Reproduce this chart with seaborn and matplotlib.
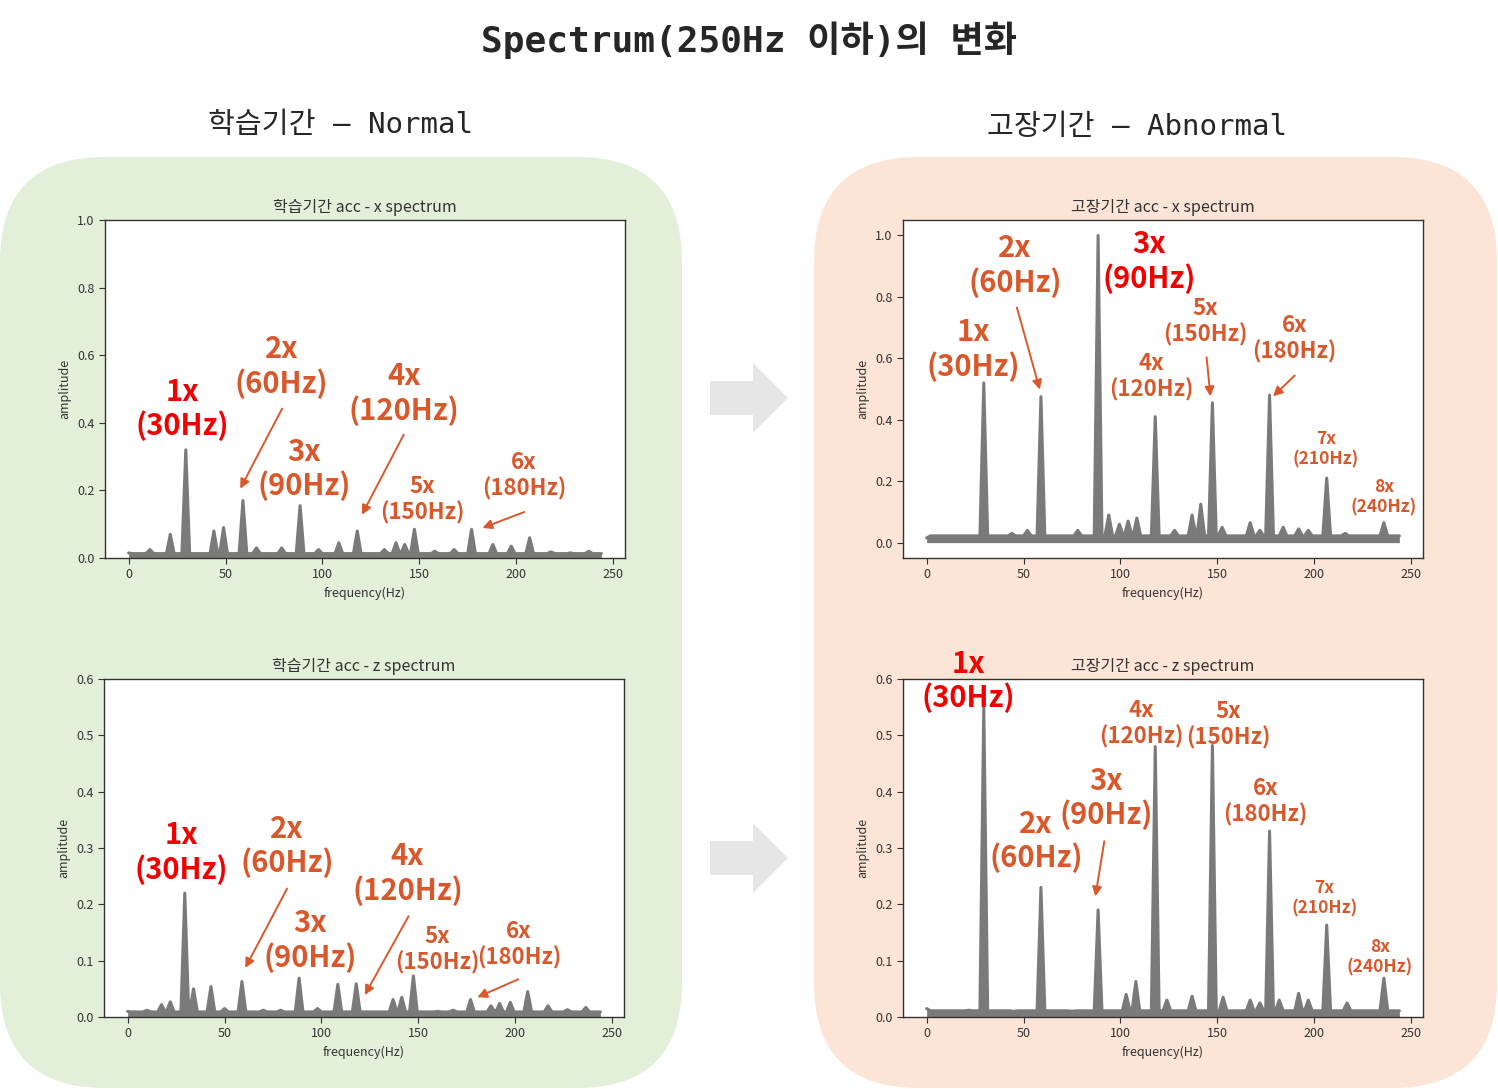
import numpy as np
import matplotlib
matplotlib.use('Agg')
import matplotlib.pyplot as plt
import matplotlib.patches as mpatches
import seaborn as sns

# %% data: peak frequency (Hz) and peak amplitude

normal_x_hz = [0, 11, 21.5, 29.5, 44, 49, 59, 66, 79, 88.5, 98, 108.5, 118, 132, 138, 142.5,
               147.5, 158, 168, 177, 188, 197.5, 207, 218, 228, 237.5]
normal_x_amp = [0.015, 0.025, 0.07, 0.32, 0.08, 0.09, 0.17, 0.03, 0.03, 0.155, 0.025, 0.045, 0.08,
                0.025, 0.045, 0.04, 0.085, 0.02, 0.025, 0.085, 0.04, 0.035, 0.06, 0.018, 0.015, 0.02]

abnormal_x_hz = [0, 29.5, 44, 52, 59, 78, 88.5, 94, 99.5, 104, 108.5, 118, 128, 137, 141.5,
                 147.5, 152.5, 167, 172, 177, 184, 192, 197, 206.5, 216, 236]
abnormal_x_amp = [0.015, 0.52, 0.03, 0.04, 0.475, 0.04, 1.0, 0.09, 0.06, 0.07, 0.08, 0.41, 0.04,
                  0.09, 0.125, 0.455, 0.05, 0.065, 0.04, 0.48, 0.05, 0.045, 0.04, 0.21, 0.03, 0.065]

normal_z_hz = [0, 10, 17.5, 22, 29.5, 34, 43, 50, 59, 70, 79, 88.5, 98, 108.5, 118, 137, 141.5,
               147.5, 160, 168, 177, 187.5, 192, 197.5, 206.5, 217, 227, 236.5]
normal_z_amp = [0.01, 0.012, 0.022, 0.027, 0.22, 0.05, 0.054, 0.015, 0.063, 0.012, 0.012, 0.069,
                0.015, 0.058, 0.059, 0.031, 0.035, 0.073, 0.01, 0.012, 0.031, 0.02, 0.024, 0.026,
                0.045, 0.02, 0.013, 0.017]

abnormal_z_hz = [0, 22, 29.5, 45, 59, 75, 88.5, 103, 108, 118, 124, 137, 147.5, 153, 167, 172,
                 177, 182, 192, 197, 206.5, 217, 236]
abnormal_z_amp = [0.015, 0.012, 0.55, 0.01, 0.23, 0.01, 0.19, 0.04, 0.063, 0.48, 0.03, 0.037,
                  0.482, 0.035, 0.03, 0.025, 0.33, 0.03, 0.042, 0.03, 0.163, 0.025, 0.069]

noise_floor = {'nx': 0.013, 'ax': 0.022, 'nz': 0.009, 'az': 0.011}
last_hz = 244

x_ticks = [0, 50, 100, 150, 200, 250]

# %% style

sns.set_style('ticks')
plt.rcParams['font.family'] = ['Noto Sans CJK KR', 'DejaVu Sans']
plt.rcParams['axes.unicode_minus'] = False

GRAY = '#7a7a7a'
ORANGE = '#d9582b'
RED = '#f20000'
TXT = '#333333'
BIG, MID, SMALL = 21, 16, 12.5


def spectrum_line(hz, amp, floor, w=2.0):
    xs, ys = [], []
    for c, h in zip(hz, amp):
        if c - w > 0:
            xs.append(c - w); ys.append(floor)
        xs.append(c); ys.append(h)
        xs.append(c + w); ys.append(floor)
    xs.append(last_hz); ys.append(floor)
    return np.array(xs), np.array(ys)


def draw_panel(ax, hz, amp, floor, title, ylim, yticks):
    xs, ys = spectrum_line(hz, amp, floor)
    ax.fill_between(xs, 0, ys, color=GRAY, lw=0)
    sns.lineplot(x=xs, y=ys, ax=ax, color=GRAY, lw=2.2, sort=False, estimator=None)
    ax.set_facecolor('white')
    ax.set_xlim(-12.2, 256.2)
    ax.set_ylim(*ylim)
    ax.set_xticks(x_ticks)
    ax.set_yticks(yticks)
    ax.set_title(title, fontsize=11.5, color=TXT, pad=6)
    ax.set_xlabel('frequency(Hz)', fontsize=9, color=TXT)
    ax.set_ylabel('amplitude', fontsize=9, color=TXT)
    ax.tick_params(labelsize=9, colors=TXT, length=4)
    for s in ax.spines.values():
        s.set_visible(True)
        s.set_color(TXT)
        s.set_linewidth(1.0)


def label(ax, text, x, y, size, color=ORANGE, arrow=None):
    ax.text(x, y, text, ha='center', va='center', fontsize=size, color=color,
            fontweight='bold', linespacing=1.15, clip_on=False)
    if arrow is not None:
        (x0, y0), (x1, y1) = arrow
        ax.annotate('', xy=(x1, y1), xytext=(x0, y0),
                    arrowprops=dict(arrowstyle='-|>', color=color, lw=1.4, mutation_scale=14,
                                    shrinkA=0, shrinkB=0))


W, H = 1498, 1089
fig = plt.figure(figsize=(W / 100, H / 100), dpi=100)

# background: rounded boxes and arrows, drawn in pixel units
bg = fig.add_axes([0, 0, 1, 1])
bg.set_xlim(0, W)
bg.set_ylim(H, 0)
bg.axis('off')
bg.add_patch(mpatches.FancyBboxPatch((0, 157), 682, 931,
             boxstyle='round,pad=0,rounding_size=105', fc='#e2efd9', ec='none'))
bg.add_patch(mpatches.FancyBboxPatch((814, 157), 683, 931,
             boxstyle='round,pad=0,rounding_size=105', fc='#fce4d6', ec='none'))
for cy in (398, 858):
    bg.add_patch(mpatches.Polygon([(710, cy - 17), (753, cy - 17), (753, cy - 35), (788, cy),
                                   (753, cy + 35), (753, cy + 17), (710, cy + 17)],
                                  closed=True, fc='#e6e6e6', ec='none'))

mono = ['DejaVu Sans Mono', 'Noto Sans CJK KR']
fig.text(0.5, 1 - 40 / H, 'Spectrum(250Hz 이하)의 변화', ha='center', va='center',
         fontsize=26, fontweight='bold', family=mono)
fig.text(340 / W, 1 - 125 / H, '학습기간 – Normal', ha='center', va='center', fontsize=21, family=mono)
fig.text(1137 / W, 1 - 127 / H, '고장기간 – Abnormal', ha='center', va='center', fontsize=21, family=mono)

aw, ah = 520 / W, 338 / H
ax_nx = fig.add_axes([105 / W, 1 - 558 / H, aw, ah])
ax_ax = fig.add_axes([903 / W, 1 - 558 / H, aw, ah])
ax_nz = fig.add_axes([104 / W, 1 - 1017 / H, aw, ah])
ax_az = fig.add_axes([903 / W, 1 - 1017 / H, aw, ah])

draw_panel(ax_nx, normal_x_hz, normal_x_amp, noise_floor['nx'], '학습기간 acc - x spectrum',
           (0, 1.0), [0, 0.2, 0.4, 0.6, 0.8, 1.0])
draw_panel(ax_ax, abnormal_x_hz, abnormal_x_amp, noise_floor['ax'], '고장기간 acc - x spectrum',
           (-0.05, 1.05), [0, 0.2, 0.4, 0.6, 0.8, 1.0])
draw_panel(ax_nz, normal_z_hz, normal_z_amp, noise_floor['nz'], '학습기간 acc - z spectrum',
           (0, 0.6), [0, 0.1, 0.2, 0.3, 0.4, 0.5, 0.6])
draw_panel(ax_az, abnormal_z_hz, abnormal_z_amp, noise_floor['az'], '고장기간 acc - z spectrum',
           (0, 0.6), [0, 0.1, 0.2, 0.3, 0.4, 0.5, 0.6])

# harmonic labels
label(ax_nx, '1x\n(30Hz)', 27.8, 0.44, BIG, RED)
label(ax_nx, '2x\n(60Hz)', 79, 0.567, BIG, arrow=((79.2, 0.442), (57.6, 0.205)))
label(ax_nx, '3x\n(90Hz)', 90.5, 0.264, BIG)
label(ax_nx, '4x\n(120Hz)', 142, 0.487, BIG, arrow=((142, 0.365), (120.4, 0.128)))
label(ax_nx, '5x\n(150Hz)', 151.7, 0.172, MID)
label(ax_nx, '6x\n(180Hz)', 204, 0.243, MID, arrow=((204.2, 0.136), (182.6, 0.089)))

label(ax_ax, '1x\n(30Hz)', 24.1, 0.629, BIG)
label(ax_ax, '2x\n(60Hz)', 45.6, 0.902, BIG, arrow=((46.6, 0.765), (58.4, 0.498)))
label(ax_ax, '3x\n(90Hz)', 114.8, 0.915, BIG, RED)
label(ax_ax, '4x\n(120Hz)', 115.8, 0.54, MID)
label(ax_ax, '5x\n(150Hz)', 144, 0.72, MID, arrow=((144.5, 0.603), (146.5, 0.476)))
label(ax_ax, '6x\n(180Hz)', 190, 0.664, MID, arrow=((190, 0.544), (178.8, 0.476)))
label(ax_ax, '7x\n(210Hz)', 206, 0.303, SMALL)
label(ax_ax, '8x\n(240Hz)', 236, 0.147, SMALL)

label(ax_nz, '1x\n(30Hz)', 27.8, 0.292, BIG, RED)
label(ax_nz, '2x\n(60Hz)', 82.3, 0.303, BIG, arrow=((82.3, 0.228), (60.7, 0.087)))
label(ax_nz, '3x\n(90Hz)', 94, 0.136, BIG)
label(ax_nz, '4x\n(120Hz)', 144.5, 0.255, BIG, arrow=((145, 0.179), (122.4, 0.039)))
label(ax_nz, '5x\n(150Hz)', 160, 0.119, MID)
label(ax_nz, '6x\n(180Hz)', 202, 0.129, MID, arrow=((201.6, 0.067), (180.5, 0.035)))

label(ax_az, '1x\n(30Hz)', 21.5, 0.596, BIG, RED)
label(ax_az, '2x\n(60Hz)', 56.6, 0.313, BIG)
label(ax_az, '3x\n(90Hz)', 92.8, 0.389, BIG, arrow=((91.7, 0.312), (87.1, 0.214)))
label(ax_az, '4x\n(120Hz)', 111, 0.52, MID)
label(ax_az, '5x\n(150Hz)', 155.7, 0.519, MID)
label(ax_az, '6x\n(180Hz)', 175, 0.382, MID)
label(ax_az, '7x\n(210Hz)', 205.4, 0.211, SMALL)
label(ax_az, '8x\n(240Hz)', 234, 0.106, SMALL)

fig.savefig('out.png', dpi=100)
